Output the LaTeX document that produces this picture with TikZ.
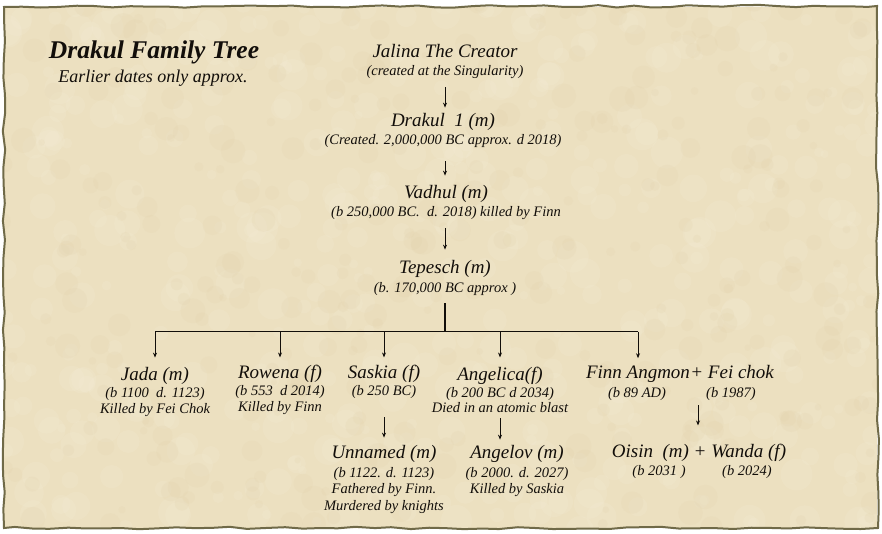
\documentclass[tikz,border=0pt]{standalone}
\usepackage{fontspec}
\setmainfont{Liberation Serif}
\usetikzlibrary{arrows.meta,decorations.pathmorphing}
\definecolor{parch}{RGB}{236,224,192}
\definecolor{parchlight}{RGB}{244,236,214}
\definecolor{parchdark}{RGB}{226,210,172}
\definecolor{edgecol}{RGB}{112,106,72}
\definecolor{ink}{RGB}{18,14,10}
\begin{document}
\begin{tikzpicture}[x=1pt,y=-1pt,
  txt/.style={inner sep=0pt, anchor=base, text=ink},
  nm/.style={txt, font=\itshape\fontsize{19}{22}\selectfont},
  sb/.style={txt, font=\itshape\fontsize{14.5}{17}\selectfont},
  arr/.style={draw=ink, line width=0.8pt, -{Stealth[length=5pt,width=4pt]}},
  bar/.style={draw=ink, line width=1.1pt},
  trunk/.style={draw=ink, line width=1.8pt},
]
\useasboundingbox (0,0) rectangle (882,534);
\fill[white] (0,0) rectangle (882,534);
% parchment
\fill[parch] (4,7) rectangle (877,528);
\begin{scope}
\clip (4,7) rectangle (877,528);
\pgfmathsetseed{42}
\foreach \i in {1,...,500}{
  \pgfmathsetmacro\px{rnd*880}
  \pgfmathsetmacro\py{rnd*530}
  \pgfmathsetmacro\rr{4+rnd*12}
  \fill[parchlight, opacity=0.22] (\px,\py) circle[radius=\rr pt];
}
\foreach \i in {1,...,350}{
  \pgfmathsetmacro\px{rnd*880}
  \pgfmathsetmacro\py{rnd*530}
  \pgfmathsetmacro\rr{3+rnd*10}
  \fill[parchdark, opacity=0.2] (\px,\py) circle[radius=\rr pt];
}
\end{scope}
\pgfmathsetseed{7}
\draw[edgecol, line width=2pt, decorate, decoration={random steps, segment length=18pt, amplitude=1.2pt}]
  (4,7) -- (877,6) -- (878,528) -- (4,528) -- cycle;

% title
\node[txt, font=\bfseries\itshape\fontsize{25.5}{29}\selectfont] (title) at (154,59) {Drakul Family Tree};
\node[txt, font=\itshape\fontsize{18}{21}\selectfont] (subtitle) at (153,83) {Earlier dates only approx.};

% main line
\node[nm] (jalina) at (445,58) {Jalina The Creator};
\node[sb] (jalinasub) at (445,76) {(created at the Singularity)};
\node[nm] (drakul) at (443,127) {Drakul\ \ 1 (m)};
\node[sb] (drakulsub) at (443,145) {(Created. 2,000,000 BC approx. d 2018)};
\node[nm] (vadhul) at (446,199) {Vadhul (m)};
\node[sb] (vadhulsub) at (446,217) {(b 250,000 BC.\ \ d. 2018) killed by Finn};
\node[nm] (tepesch) at (445,273) {Tepesch (m)};
\node[sb] (tepeschsub) at (445,292) {(b. 170,000 BC approx )};

% children
\node[nm] (jada) at (155,380) {Jada (m)};
\node[sb] (jadasub) at (155,397) {(b 1100\ \ d. 1123)};
\node[sb] (jadakill) at (155,413) {Killed by Fei Chok};
\node[nm] (rowena) at (280,378) {Rowena (f)};
\node[sb] (rowenasub) at (280,395) {(b 553\ \ d 2014)};
\node[sb] (rowenakill) at (280,411) {Killed by Finn};
\node[nm] (saskia) at (384,378) {Saskia\ (f)};
\node[sb] (saskiasub) at (384,395) {(b 250 BC)};
\node[nm] (angelica) at (500,380) {Angelica(f)};
\node[sb] (angelicasub) at (500,397) {(b 200 BC d 2034)};
\node[sb] (angelicadied) at (500,412) {Died in an atomic blast};
\node[nm] (finn) at (638,378) {Finn Angmon};
\node[nm, anchor=base west] (fei) at (finn.base east) {+ Fei chok};
\node[sb] (finnsub) at (637,397) {(b 89 AD)};
\node[sb] (feisub) at (731,397) {(b 1987)};

% grandchildren
\node[nm] (unnamed) at (384,458) {Unnamed (m)};
\node[sb] (unnamedsub) at (384,477) {(b 1122. d. 1123)};
\node[sb] (unnamedfa) at (384,493) {Fathered by Finn.};
\node[sb] (unnamedmu) at (384,510) {Murdered by knights};
\node[nm] (angelov) at (517,458) {Angelov (m)};
\node[sb] (angelovsub) at (517,477) {(b 2000. d. 2027)};
\node[sb] (angelovkill) at (517,493) {Killed by Saskia};
\node[nm] (oisin) at (699,457) {Oisin\ \ (m) + Wanda (f)};
\node[sb] (oisinsub) at (659,475) {(b 2031 )};
\node[sb] (wandasub) at (747,475) {(b 2024)};

% connectors
\draw[arr, shorten <=8pt, shorten >=6pt] (jalinasub.south) -- (jalinasub.south |- drakul.north);
\draw[arr, shorten <=13pt, shorten >=10pt] (drakulsub.south -| jalinasub.south) -- (jalinasub.south |- vadhul.north);
\draw[arr, shorten <=8pt, shorten >=10pt] (vadhulsub.south -| jalinasub.south) -- (jalinasub.south |- tepesch.north);
\coordinate (bus) at (445,331.5);
\draw[trunk, shorten <=8pt] (tepeschsub.south) -- (bus);
\draw[bar] (bus -| jada) -- (bus -| finn);
\draw[arr, shorten >=9pt] (bus -| jada) -- (jada.north);
\draw[arr, shorten >=7pt] (bus -| rowena) -- (rowena.north);
\draw[arr, shorten >=7pt] (bus -| saskia) -- (saskia.north);
\draw[arr, shorten >=9pt] (bus -| angelica) -- (angelica.north);
\draw[arr, shorten >=7pt] (bus -| finn) -- (finn.north);
\draw[arr, shorten <=19pt, shorten >=7pt] (saskiasub.south) -- (unnamed.north);
\draw[arr, shorten <=6pt, shorten >=5pt] (angelicadied.south) -- (angelicadied.south |- angelov.north);
\coordinate (couple) at (698,405);
\draw[arr, shorten >=18pt] (couple) -- (couple |- oisin.north);
\end{tikzpicture}
\end{document}
